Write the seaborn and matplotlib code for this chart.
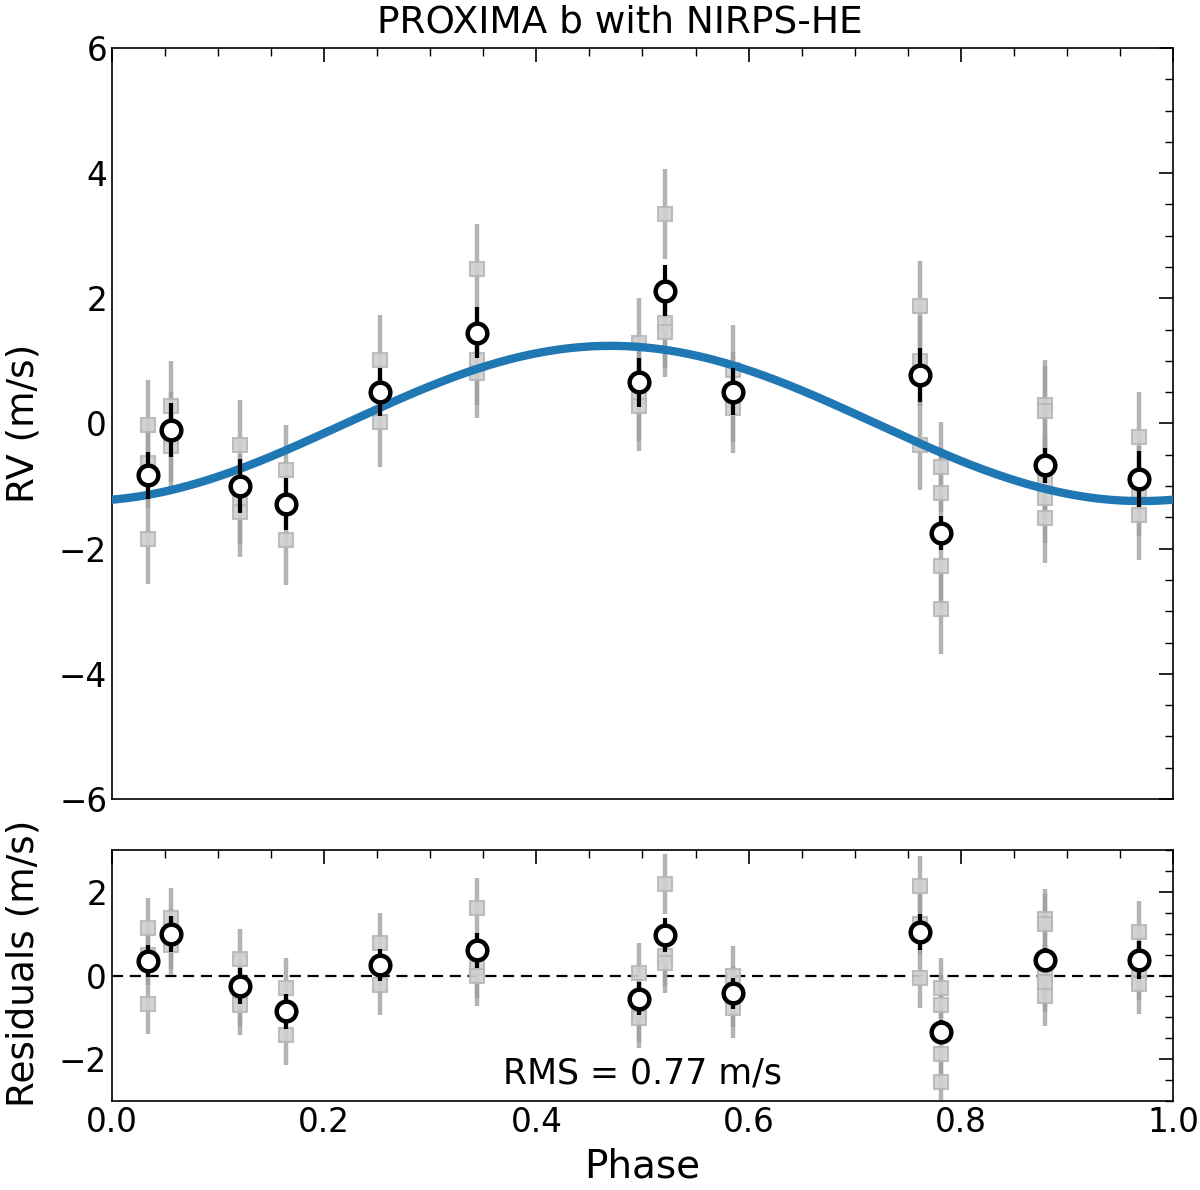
import numpy as np
import pandas as pd
import seaborn as sns
import matplotlib.pyplot as plt
from matplotlib.ticker import MultipleLocator

# binned points (black circles)
bin_phase = [0.034, 0.056, 0.121, 0.164, 0.253, 0.344, 0.497, 0.521, 0.585, 0.762, 0.781, 0.879, 0.968]
bin_rv = [-0.83, -0.10, -1.00, -1.29, 0.50, 1.45, 0.66, 2.12, 0.51, 0.78, -1.75, -0.67, -0.89]
bin_res = [0.34, 1.00, -0.26, -0.86, 0.26, 0.60, -0.55, 0.96, -0.43, 1.05, -1.34, 0.37, 0.37]
bin_err = [0.38, 0.43, 0.43, 0.42, 0.38, 0.41, 0.39, 0.41, 0.37, 0.43, 0.27, 0.28, 0.45]

# individual measurements (grey squares), one list per bin
raw_rv = [
    [-0.03, -0.63, -1.85],
    [0.28, -0.22, -0.36],
    [-0.35, -1.20, -1.42],
    [-0.75, -1.86],
    [1.02, 0.02],
    [2.47, 1.02, 0.81],
    [1.29, 0.44, 0.28],
    [3.34, 1.61, 1.46],
    [0.86, 0.42, 0.25],
    [1.87, 1.00, -0.34],
    [-0.69, -1.11, -2.28, -2.97],
    [0.30, 0.20, -0.90, -1.19, -1.51],
    [-0.21, -1.08, -1.46],
]
raw_res = [
    [1.14, 0.50, -0.68],
    [1.37, 0.87, 0.74],
    [0.40, -0.50, -0.70],
    [-0.31, -1.42],
    [0.78, -0.22],
    [1.62, 0.18, 0.00],
    [0.06, -0.86, -1.02],
    [2.18, 0.46, 0.30],
    [-0.02, -0.50, -0.78],
    [2.14, 1.22, -0.06],
    [-0.30, -0.70, -1.88, -2.55],
    [1.34, 1.24, 0.02, -0.16, -0.48],
    [1.05, 0.14, -0.20],
]
raw_err = 0.72

# circular-orbit model: semi-amplitude and phase of maximum
K = 1.24
phase_max = 0.47
rms = 0.77

# flatten raw points into a table
rows = []
for p, rvs, ress in zip(bin_phase, raw_rv, raw_res):
    for v, r in zip(rvs, ress):
        rows.append({'phase': p, 'rv': v, 'res': r})
raw = pd.DataFrame(rows)

ph = np.linspace(0, 1, 500)
model = pd.DataFrame({'phase': ph, 'rv': K * np.cos(2 * np.pi * (ph - phase_max))})

sns.set_style('white')
plt.rcParams['font.family'] = ['DejaVu Sans']
plt.rcParams['font.size'] = 24
plt.rcParams['text.color'] = 'black'
plt.rcParams['axes.labelcolor'] = 'black'
plt.rcParams['xtick.color'] = 'black'
plt.rcParams['ytick.color'] = 'black'

fig = plt.figure(figsize=(12, 11.9), dpi=100)
ax1 = fig.add_axes([0.0933, 0.3286, 0.8842, 0.6311])
ax2 = fig.add_axes([0.0933, 0.0748, 0.8842, 0.2109], sharex=ax1)

def draw_points(ax, col, bin_vals):
    ax.errorbar(raw['phase'], raw[col], yerr=raw_err, fmt='none',
                ecolor='#a0a0a0', elinewidth=3.2, alpha=0.8, zorder=2)
    ax.plot(raw['phase'], raw[col], 's', ms=10.5, mfc='#d0d0d0', mec='#b8b8b8',
            mew=1.5, alpha=0.9, zorder=3)
    ax.errorbar(bin_phase, bin_vals, yerr=bin_err, fmt='none',
                ecolor='black', elinewidth=3, zorder=5)
    sns.scatterplot(x=bin_phase, y=bin_vals, ax=ax, s=200, marker='o',
                    facecolor='white', edgecolor='black', linewidth=3.2, zorder=6)

# top: RV + model
sns.lineplot(data=model, x='phase', y='rv', ax=ax1, color='#1f77b4', lw=6, zorder=4)
draw_points(ax1, 'rv', bin_rv)
ax1.set_ylim(-6, 6)
ax1.set_xlim(0, 1)
ax1.set_ylabel('RV (m/s)', fontsize=27)
ax1.set_xlabel('')
ax1.set_title('PROXIMA b with NIRPS-HE', fontsize=27, pad=11, x=0.479)
ax1.yaxis.set_major_locator(MultipleLocator(2))
ax1.yaxis.set_minor_locator(MultipleLocator(0.5))
ax1.tick_params(labelbottom=False)

# bottom: residuals
ax2.axhline(0, color='black', ls='--', lw=1.6, dashes=(5, 3), zorder=1)
draw_points(ax2, 'res', bin_res)
ax2.set_ylim(-3, 3)
ax2.set_ylabel('Residuals (m/s)', fontsize=27)
ax2.set_xlabel('Phase', fontsize=28, labelpad=6)
ax2.yaxis.set_major_locator(MultipleLocator(2))
ax2.yaxis.set_minor_locator(MultipleLocator(0.5))
ax2.text(0.5, -2.35, 'RMS = %.2f m/s' % rms, ha='center', va='center', fontsize=25)

for ax in (ax1, ax2):
    ax.xaxis.set_major_locator(MultipleLocator(0.2))
    ax.xaxis.set_minor_locator(MultipleLocator(0.05))
    ax.tick_params(which='both', direction='in', top=True, right=True, color='black')
    ax.tick_params(which='major', length=10, width=1.2, labelsize=23.5)
    ax.tick_params(which='minor', length=6, width=1.0)
    for s in ax.spines.values():
        s.set_color('black')
        s.set_linewidth(1.2)
    ax.set_facecolor('white')

ax1.yaxis.set_label_coords(-0.066, 0.5)
ax2.yaxis.set_label_coords(-0.066, 0.55)

fig.savefig('out.png', dpi=100)
